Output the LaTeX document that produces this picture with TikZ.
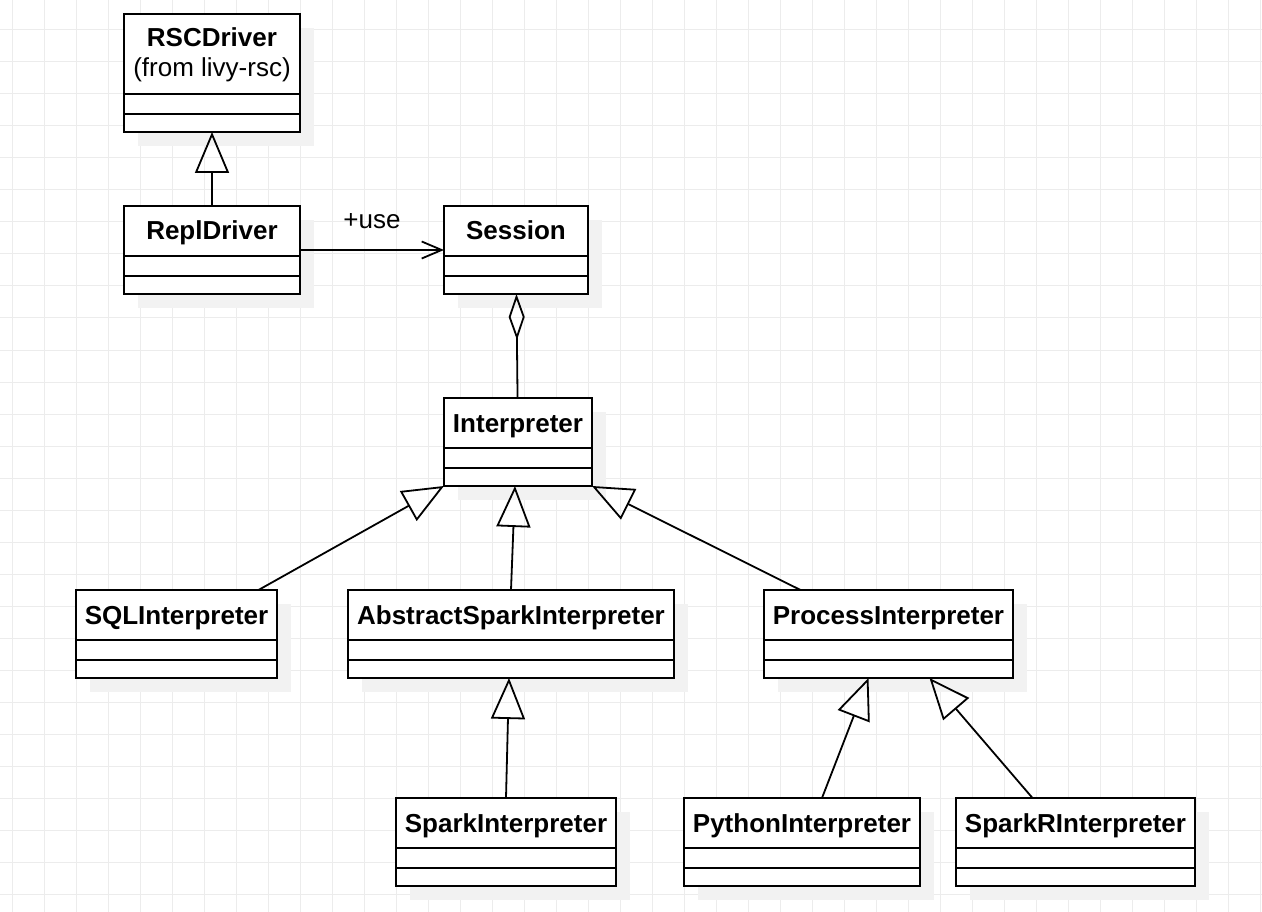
\documentclass[tikz,border=0pt]{standalone}
\usepackage{fontspec}
\setmainfont{Liberation Sans}
\usetikzlibrary{arrows.meta, positioning, shadows}
\definecolor{GridGray}{RGB}{236,236,236}
\definecolor{ShadowGray}{RGB}{242,242,242}

\begin{document}
\begin{tikzpicture}[x=1pt, y=-1pt,
  umlclass/.style={draw, line width=2pt, fill=white, inner sep=0pt, outer sep=0pt,
                   text height=34pt, text depth=54pt, align=center,
                   font=\fontsize{26}{30}\selectfont\bfseries,
                   drop shadow={shadow xshift=14pt, shadow yshift=-14pt, fill=ShadowGray, opacity=1},
                   path picture={\draw[line width=2pt]
                     ([yshift=-#1]path picture bounding box.north west) -- ([yshift=-#1]path picture bounding box.north east)
                     ([yshift=-#1-20pt]path picture bounding box.north west) -- ([yshift=-#1-20pt]path picture bounding box.north east);}},
  umlclass/.default=50pt,
  lbl/.style={inner sep=0pt, font=\fontsize{26}{30}\selectfont},
  gen/.style={-{Triangle[open, length=41pt, width=34pt]}, line width=1.8pt},
  use/.style={-{Straight Barb[length=20pt, width=17pt]}, line width=1.8pt},
  agg/.style={{Diamond[open, length=46pt, width=16pt]}-, line width=1.8pt},
]
\useasboundingbox (0,0) rectangle (1262,912);
\foreach \gx in {12,44,...,1262} \draw[GridGray, line width=1pt] (\gx,0) -- (\gx,912);
\foreach \gy in {30,62,...,912} \draw[GridGray, line width=1pt] (0,\gy) -- (1262,\gy);

\node[umlclass=80pt, text height=63pt, text depth=55pt, minimum width=176pt, anchor=north west] (rsc) at (124,14) {RSCDriver\\{\mdseries (from livy-rsc)}};
\node[umlclass, minimum width=176pt, below=74pt of rsc] (repl) {ReplDriver};
\node[umlclass, minimum width=144pt, right=144pt of repl] (session) {Session};
\node[umlclass, minimum width=148pt, below right=104pt and 0pt of session.south west] (interp) {Interpreter};
\node[umlclass, minimum width=326pt, below right=104pt and -96pt of interp.south west] (abs) {AbstractSparkInterpreter};
\node[umlclass, minimum width=201pt, left=71pt of abs] (sql) {SQLInterpreter};
\node[umlclass, minimum width=249pt, right=90pt of abs] (proc) {ProcessInterpreter};
\node[umlclass, minimum width=220pt, below right=120pt and 48pt of abs.south west] (spark) {SparkInterpreter};
\node[umlclass, minimum width=236pt, right=68pt of spark] (python) {PythonInterpreter};
\node[umlclass, minimum width=239pt, right=36pt of python] (sparkr) {SparkRInterpreter};

\draw[gen] (repl) -- (rsc);
\draw[use] (repl) -- node[lbl, above=20pt] (uselbl) {+use} (session);
\draw[agg] (session) -- (interp);
\draw[gen] ([xshift=82pt]sql.north) -- (interp.south west);
\draw[gen] (abs.north) -- ([xshift=-3pt]interp.south);
\draw[gen] ([xshift=-88pt]proc.north) -- (interp.south east);
\draw[gen] (spark.north) -- ([xshift=-2pt]abs.south);
\draw[gen] ([xshift=20pt]python.north) -- ([xshift=-20pt]proc.south);
\draw[gen] ([xshift=-43pt]sparkr.north) -- ([xshift=41pt]proc.south);
\end{tikzpicture}
\end{document}
